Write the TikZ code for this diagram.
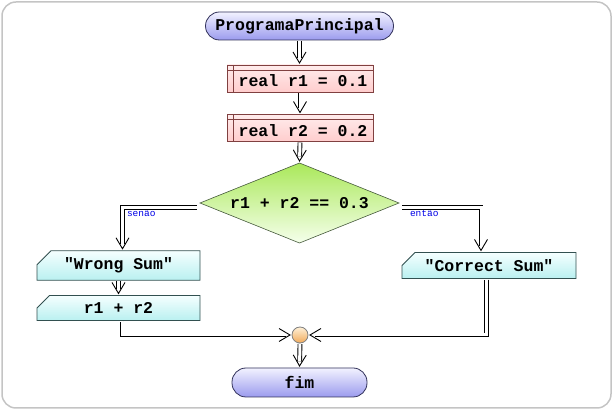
\documentclass[tikz,border=0pt]{standalone}
\usepackage{fontspec}
\setmonofont{Liberation Mono}
\usetikzlibrary{arrows.meta,shapes.geometric,shapes.misc,decorations.markings}
\definecolor{framec}{RGB}{196,196,196}
\definecolor{termtop}{RGB}{242,242,255}
\definecolor{termbot}{RGB}{155,155,238}
\definecolor{termdraw}{RGB}{50,50,90}
\definecolor{pinktop}{RGB}{255,236,236}
\definecolor{pinkbot}{RGB}{255,205,205}
\definecolor{pinkdraw}{RGB}{128,64,64}
\definecolor{cyantop}{RGB}{245,255,255}
\definecolor{cyanbot}{RGB}{185,240,240}
\definecolor{cyandraw}{RGB}{50,80,80}
\definecolor{greentop}{RGB}{170,232,90}
\definecolor{greenbot}{RGB}{245,255,235}
\definecolor{greendraw}{RGB}{70,90,60}
\definecolor{orangetop}{RGB}{255,240,215}
\definecolor{orangebot}{RGB}{240,170,90}
\definecolor{lblblue}{RGB}{0,0,230}
\begin{document}
\begin{tikzpicture}[x=1pt,y=-1pt,
  every node/.style={font=\ttfamily\bfseries\fontsize{16.5}{18}\selectfont, inner sep=0pt, outer sep=0pt},
  term/.style={rectangle, rounded corners=14pt, draw=termdraw, line width=0.8pt, top color=termtop, bottom color=termbot, minimum height=28pt},
  procbox/.style={rectangle, draw=pinkdraw, line width=0.8pt, top color=pinktop, bottom color=pinkbot, minimum width=146pt, minimum height=27pt},
  stripe/.style={draw=pinkdraw, line width=0.6pt},
  iobox/.style={chamfered rectangle, chamfered rectangle corners=north west, chamfered rectangle xsep=7pt, chamfered rectangle ysep=7pt, draw=cyandraw, line width=0.8pt, top color=cyantop, bottom color=cyanbot, minimum height=21pt},
  decision/.style={diamond, aspect=2.5, draw=greendraw, line width=0.6pt, top color=greentop, bottom color=greenbot, minimum width=199pt, minimum height=80pt},
  joint/.style={circle, draw=gray, line width=0.8pt, top color=orangetop, bottom color=orangebot, minimum size=16pt},
  lbl/.style={font=\ttfamily\fontsize{9.5}{10}\selectfont, text=lblblue},
  conn/.style={draw=black, double=white, double distance=3pt, line width=0.9pt,
    shorten >=6.5pt, shorten <=1pt,
    postaction={decorate, decoration={markings,
      mark=at position -2pt with {\draw[black, line width=0.9pt, shorten >=0pt, shorten <=0pt, miter limit=10]
        (-11pt,6.5pt) -- (0pt,0pt) -- (-11pt,-6.5pt);}}}}
]
\useasboundingbox (0,0) rectangle (614,411);
\draw[framec, line width=1.5pt, rounded corners=14pt] (2,2) rectangle (611,408);

\node[term, minimum width=188pt] (start) at (299.5,26) {ProgramaPrincipal};

\node[procbox] (r1) at (300,78.5) {};
\draw[stripe] ([yshift=-5pt]r1.north west) -- ([yshift=-5pt]r1.north east);
\draw[stripe] ([xshift=6pt]r1.north west) -- ([xshift=6pt]r1.south west);
\node (r1t) at ([xshift=3pt,yshift=-2.5pt]r1.center) {real r1 = 0.1};

\node[procbox] (r2) at (300,128) {};
\draw[stripe] ([yshift=-5pt]r2.north west) -- ([yshift=-5pt]r2.north east);
\draw[stripe] ([xshift=6pt]r2.north west) -- ([xshift=6pt]r2.south west);
\node (r2t) at ([xshift=3pt,yshift=-2.5pt]r2.center) {real r2 = 0.2};

\node[decision] (cond) at (299.5,203) {r1 + r2 == 0.3};

\node[iobox, minimum width=163pt] (wsum) at (118.5,265.5) {"Wrong Sum"};
\node[iobox, minimum width=163pt, minimum height=20pt] (sumr) at (118.5,308) {r1 + r2};
\node[iobox, minimum width=174pt] (csum) at (489,265.5) {"Correct Sum"};

\node[joint] (join) at (300,335) {};
\node[term, minimum width=135pt, minimum height=29pt] (fim) at (299.5,382.5) {fim};

\node[lbl, anchor=base west] (lsen) at (127,217) {senão};
\node[lbl, anchor=base west] (lent) at (410,217) {então};

\draw[conn] (start.south) -- (start.south |- r1.north);
\draw[conn] (r1.south) -- (r2.north);
\draw[conn] (r2.south) -- (cond.north);
\draw[conn] ([xshift=-2pt,yshift=-4.5pt]cond.west) -| ([xshift=4pt]wsum.north);
\draw[conn] ([xshift=2pt,yshift=-4.5pt]cond.east) -| ([xshift=-8pt]csum.north);
\draw[conn] (wsum.south) -- (sumr.north);
\draw[conn] ([xshift=3.5pt]sumr.south) |- (join.west);
\draw[conn] ([xshift=-2.5pt]csum.south) |- (join.east);
\draw[conn] (join.south) -- (fim.north);
\end{tikzpicture}
\end{document}
